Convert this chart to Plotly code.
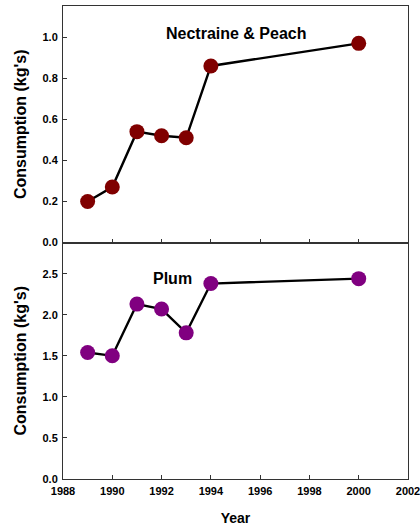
import plotly.graph_objects as go
from plotly.subplots import make_subplots

years = [1989, 1990, 1991, 1992, 1993, 1994, 2000]
nectarine_peach = [0.20, 0.27, 0.54, 0.52, 0.51, 0.86, 0.97]
plum = [1.54, 1.50, 2.13, 2.07, 1.78, 2.38, 2.44]

FONT = "Arial, Liberation Sans, sans-serif"

fig = make_subplots(rows=2, cols=1, shared_xaxes=False, vertical_spacing=0)

fig.add_trace(go.Scatter(
    x=years, y=nectarine_peach, mode="lines+markers",
    line=dict(color="black", width=2.4),
    marker=dict(color="#800000", size=15),
    showlegend=False), row=1, col=1)

fig.add_trace(go.Scatter(
    x=years, y=plum, mode="lines+markers",
    line=dict(color="black", width=2.4),
    marker=dict(color="#800080", size=15),
    showlegend=False), row=2, col=1)

tickfont = dict(family=FONT, size=11, color="black", weight="bold")
titlefont = dict(family=FONT, size=16, color="black", weight="bold")

xcommon = dict(range=[1988, 2002], dtick=2, tick0=1988, ticks="inside", ticklen=4,
               tickcolor="#333", showline=True, linecolor="#333", linewidth=1,
               mirror=True, showgrid=False, zeroline=False, tickfont=tickfont,
               automargin=False)
fig.update_xaxes(**xcommon, showticklabels=False, row=1, col=1)
fig.update_xaxes(**xcommon, showticklabels=True, ticklabelstandoff=2,
                 ticklabeloverflow="allow",
                 title=dict(text="Year", font=dict(family=FONT, size=14, color="black", weight="bold"), standoff=16),
                 row=2, col=1)

ycommon = dict(ticks="inside", ticklen=4, tickcolor="#333", showline=True,
               linecolor="#333", linewidth=1, mirror=True, showgrid=False,
               zeroline=False, tickfont=tickfont, ticklabelstandoff=2,
               automargin=False)
fig.update_yaxes(**ycommon, range=[0, 1.152], dtick=0.2, tickformat=".1f",
                 title=dict(text="Consumption (kg's)", font=titlefont, standoff=11),
                 row=1, col=1)
fig.update_yaxes(**ycommon, range=[0, 2.88], dtick=0.5, tickformat=".1f",
                 title=dict(text="Consumption (kg's)", font=titlefont, standoff=11),
                 row=2, col=1)

fig.add_annotation(text="Nectraine & Peach", x=1995.06, y=1.016, xref="x", yref="y",
                   showarrow=False, font=dict(family=FONT, size=16, color="black", weight="bold"))
fig.add_annotation(text="Plum", x=1992.46, y=2.44, xref="x2", yref="y2",
                   showarrow=False, font=dict(family=FONT, size=16, color="black", weight="bold"))

fig.update_layout(
    width=420, height=527,
    margin=dict(l=63, r=12, t=6, b=48),
    plot_bgcolor="white", paper_bgcolor="white",
)

fig.write_html("out.html")
